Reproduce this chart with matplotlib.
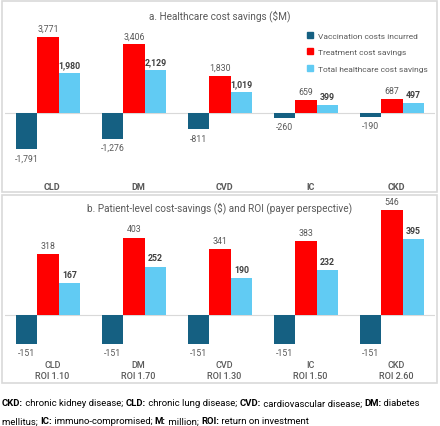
import matplotlib
matplotlib.use("Agg")
import matplotlib.pyplot as plt
import matplotlib.patches as patches
import numpy as np

plt.rcParams['font.family'] = ['Roboto', 'DejaVu Sans']

# Data
categories = ["CLD", "DM", "CVD", "IC", "CKD"]
roi = ["1.10", "1.70", "1.30", "1.50", "2.60"]

vacc_a = [-1791, -1276, -811, -260, -190]
treat_a = [3771, 3406, 1830, 659, 687]
total_a = [1980, 2129, 1019, 399, 497]

vacc_b = [-151, -151, -151, -151, -151]
treat_b = [318, 403, 341, 383, 546]
total_b = [167, 252, 190, 232, 395]

series_names = ["Vaccination costs incurred", "Treatment cost savings",
                "Total healthcare cost savings"]
colors = ["#156082", "#FF0000", "#61CBF3"]
grey = "#595959"
dark = "#404040"

footnote_lines = [
    [("CKD:", True), (" chronic kidney disease; ", False), ("CLD:", True),
     (" chronic lung disease; ", False), ("CVD:", True),
     (" cardiovascular disease; ", False), ("DM:", True), (" diabetes", False)],
    [("mellitus; ", False), ("IC:", True), (" immuno-compromised; ", False),
     ("M:", True), (" million; ", False), ("ROI:", True),
     (" return on investment", False)],
]

W, H = 440, 427
fig = plt.figure(figsize=(W / 100, H / 100), dpi=100)


def px_axes(x0, y0, x1, y1):
    # pixel box measured from top-left
    return fig.add_axes([x0 / W, 1 - y1 / H, (x1 - x0) / W, (y1 - y0) / H])


# panel borders
for (y0, y1) in [(2, 193), (196, 384)]:
    fig.add_artist(patches.Rectangle((2 / W, 1 - y1 / H), 435 / W, (y1 - y0) / H,
                                     transform=fig.transFigure, facecolor='none',
                                     edgecolor='#D9D9D9', linewidth=1.2))


def draw_panel(ax, vals, ylim, ticklabels, title, title_y):
    x = np.arange(len(categories))
    w = 0.25
    for k, (v, c) in enumerate(zip(vals, colors)):
        bars = ax.bar(x + (k - 1) * w, v, w, color=c, zorder=2)
        for b, val in zip(bars, v):
            bold = (k == 2)
            off = 3 if val >= 0 else -3
            ax.annotate(f"{val:,}", (b.get_x() + b.get_width() / 2, val),
                        xytext=(0, off), textcoords='offset points',
                        ha='center', va='bottom' if val >= 0 else 'top',
                        fontsize=6.3, color=dark if bold else grey,
                        fontweight='bold' if bold else 'normal')
    ax.axhline(0, color='#D9D9D9', linewidth=0.8, zorder=1)
    ax.set_xlim(-0.5, len(categories) - 0.5)
    ax.set_ylim(*ylim)
    ax.set_yticks([])
    ax.set_xticks(x + 0.05)
    ax.set_xticklabels(ticklabels)
    ax.tick_params(axis='x', length=0, labelsize=6.5, labelcolor=grey)
    for s in ax.spines.values():
        s.set_visible(False)
    fig.text(220 / W, 1 - title_y / H, title, ha='center', va='center',
             fontsize=7.2, color=grey)


# Panel a
ax1 = px_axes(5, 30, 435, 178)
s_a = 3771 / 76
draw_panel(ax1, [vacc_a, treat_a, total_a],
           (-(178 - 114) * s_a, (114 - 30) * s_a), categories,
           "a. Healthcare cost savings ($M)", 16)
for t in ax1.get_xticklabels():
    t.set_fontweight('bold')
handles = [patches.Patch(color=c) for c in colors]
leg = ax1.legend(handles, series_names, loc='upper right', bbox_to_anchor=(1.0, 1.03),
                 frameon=False, fontsize=6, handlelength=0.7, handleheight=0.7,
                 handletextpad=0.6, labelspacing=1.15, labelcolor=grey)

# Panel b
ax2 = px_axes(5, 200, 435, 350)
s_b = 546 / 105
draw_panel(ax2, [vacc_b, treat_b, total_b],
           (-(350 - 316) * s_b, (316 - 200) * s_b),
           [f"{c}\nROI {r}" for c, r in zip(categories, roi)],
           "b. Patient-level cost-savings ($) and ROI (payer perspective)", 208)
ax2.tick_params(axis='x', pad=8)
for t in ax2.get_xticklabels():
    t.set_linespacing(1.25)
    t.set_fontweight('medium')

# Footnote: bold abbreviations followed by regular text
renderer = fig.canvas.get_renderer()


def text_width(txt, weight, size):
    # bracket with bars so leading/trailing spaces are counted
    a = fig.text(0, 0, "|" + txt + "|", fontsize=size, fontweight=weight)
    b = fig.text(0, 0, "||", fontsize=size, fontweight=weight)
    w = a.get_window_extent(renderer).width - b.get_window_extent(renderer).width
    a.remove()
    b.remove()
    return w


fs = 6.8
for line, y in zip(footnote_lines, [404, 422]):
    xpos = 2
    for txt, bold in line:
        weight = 'bold' if bold else 'normal'
        fig.text(xpos / W, 1 - y / H, txt, fontsize=fs, color='black',
                 va='center', ha='left', fontweight=weight)
        xpos += text_width(txt, weight, fs)

fig.savefig("out.png", dpi=100)
